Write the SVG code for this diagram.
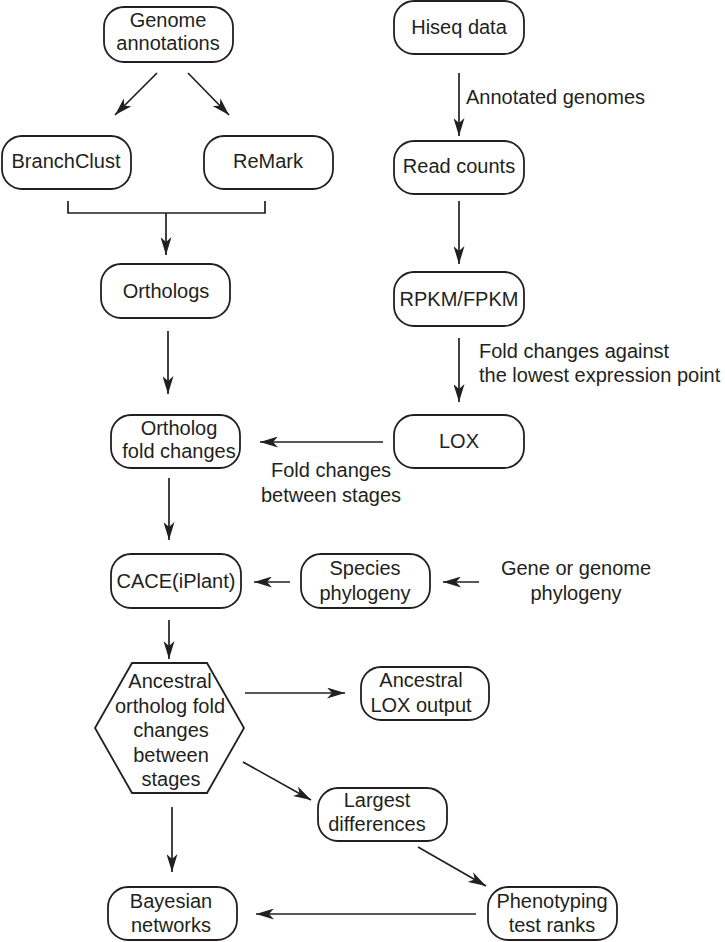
<svg xmlns="http://www.w3.org/2000/svg" width="725" height="942" viewBox="0 0 725 942">
<defs>
<marker id="ah" viewBox="0 0 18 11" refX="18" refY="5.5" markerWidth="18" markerHeight="11" orient="auto" markerUnits="userSpaceOnUse">
<path d="M0,0 L18,5.5 L0,11 L5,5.5 z" fill="#231f20"/>
</marker>
<style>
.box{fill:#fff;stroke:#231f20;stroke-width:1.8}
.t{font-family:"Liberation Sans",Arial,sans-serif;font-size:20px;fill:#231f20;text-anchor:middle}
.ts{font-family:"Liberation Sans",Arial,sans-serif;font-size:20px;fill:#231f20}
.c{fill:none;stroke:#231f20;stroke-width:1.7}
.ca{fill:none;stroke:#231f20;stroke-width:1.7;marker-end:url(#ah)}
</style>
</defs>
<rect width="725" height="942" fill="#fff"/>
<g id="connectors">
<line class="ca" x1="157" y1="73" x2="115" y2="115"/>
<line class="ca" x1="188" y1="73" x2="229" y2="115"/>
<polyline class="c" points="68,201 68,213 265,213 265,201"/>
<line class="ca" x1="166" y1="213" x2="166" y2="255"/>
<line class="ca" x1="459" y1="73" x2="459" y2="136"/>
<line class="ca" x1="459" y1="201" x2="459" y2="264"/>
<line class="ca" x1="168" y1="331" x2="168" y2="394"/>
<line class="ca" x1="459" y1="338" x2="459" y2="402"/>
<line class="ca" x1="383" y1="442" x2="260" y2="442"/>
<line class="ca" x1="169" y1="478" x2="169" y2="540"/>
<line class="ca" x1="290" y1="582" x2="254" y2="582"/>
<line class="ca" x1="479" y1="582" x2="443" y2="582"/>
<line class="ca" x1="169" y1="620" x2="169" y2="659"/>
<line class="ca" x1="245" y1="693" x2="345" y2="693"/>
<line class="ca" x1="243" y1="762" x2="311" y2="800"/>
<line class="ca" x1="418" y1="847" x2="486" y2="886"/>
<line class="ca" x1="476" y1="914" x2="256" y2="914"/>
<line class="ca" x1="172" y1="807" x2="172" y2="872"/>
</g>
<g id="genome">
<rect class="box" x="104" y="7" width="129" height="55" rx="20"/>
<text class="t" x="168" y="27">Genome</text>
<text class="t" x="168" y="50">annotations</text>
</g>
<g id="branchclust">
<rect class="box" x="2" y="136" width="129" height="53" rx="20"/>
<text class="t" x="66" y="168">BranchClust</text>
</g>
<g id="remark">
<rect class="box" x="204" y="136" width="129" height="53" rx="20"/>
<text class="t" x="268" y="168">ReMark</text>
</g>
<g id="hiseq">
<rect class="box" x="394" y="1" width="130" height="53" rx="20"/>
<text class="t" x="459" y="34">Hiseq data</text>
</g>
<g id="annotated-label">
<text class="ts" x="466" y="104">Annotated genomes</text>
</g>
<g id="readcounts">
<rect class="box" x="394" y="141" width="130" height="53" rx="20"/>
<text class="t" x="459" y="173">Read counts</text>
</g>
<g id="orthologs">
<rect class="box" x="101" y="264" width="129" height="54" rx="20"/>
<text class="t" x="166" y="298">Orthologs</text>
</g>
<g id="rpkm">
<rect class="box" x="394" y="272" width="130" height="54" rx="20"/>
<text class="t" x="459" y="306">RPKM/FPKM</text>
</g>
<g id="foldlabel1">
<text class="ts" x="479" y="358">Fold changes against</text>
<text class="ts" x="479" y="382">the lowest expression point</text>
</g>
<g id="orthologfold">
<rect class="box" x="111" y="415" width="129" height="53" rx="20"/>
<text class="t" x="179" y="435">Ortholog</text>
<text class="t" x="179" y="458">fold changes</text>
</g>
<g id="lox">
<rect class="box" x="394" y="415" width="130" height="53" rx="20"/>
<text class="t" x="459" y="448">LOX</text>
</g>
<g id="foldlabel2">
<text class="t" x="331" y="477">Fold changes</text>
<text class="t" x="331" y="502">between stages</text>
</g>
<g id="cace">
<rect class="box" x="111" y="554" width="130" height="54" rx="20"/>
<text class="t" x="176" y="588">CACE(iPlant)</text>
</g>
<g id="species">
<rect class="box" x="301" y="554" width="129" height="54" rx="20"/>
<text class="t" x="365" y="575">Species</text>
<text class="t" x="365" y="600">phylogeny</text>
</g>
<g id="gene">
<text class="t" x="576" y="575">Gene or genome</text>
<text class="t" x="576" y="600">phylogeny</text>
</g>
<g id="ancestral">
<polygon class="box" points="132,663 207,663 244,728 207,793 132,793 95,728"/>
<text class="t" x="170" y="688">Ancestral</text>
<text class="t" x="170" y="713">ortholog fold</text>
<text class="t" x="171" y="737">changes</text>
<text class="t" x="171" y="762">between</text>
<text class="t" x="171" y="786">stages</text>
</g>
<g id="ancestrallox">
<rect class="box" x="361" y="667" width="128" height="53" rx="20"/>
<text class="t" x="421" y="687">Ancestral</text>
<text class="t" x="421" y="712">LOX output</text>
</g>
<g id="largest">
<rect class="box" x="318" y="788" width="129" height="53" rx="20"/>
<text class="t" x="377" y="807">Largest</text>
<text class="t" x="377" y="831">differences</text>
</g>
<g id="phenotyping">
<rect class="box" x="488" y="887" width="129" height="53" rx="20"/>
<text class="t" x="552" y="908">Phenotyping</text>
<text class="t" x="552" y="932">test ranks</text>
</g>
<g id="bayesian">
<rect class="box" x="108" y="887" width="129" height="53" rx="20"/>
<text class="t" x="171" y="908">Bayesian</text>
<text class="t" x="171" y="932">networks</text>
</g>
</svg>
